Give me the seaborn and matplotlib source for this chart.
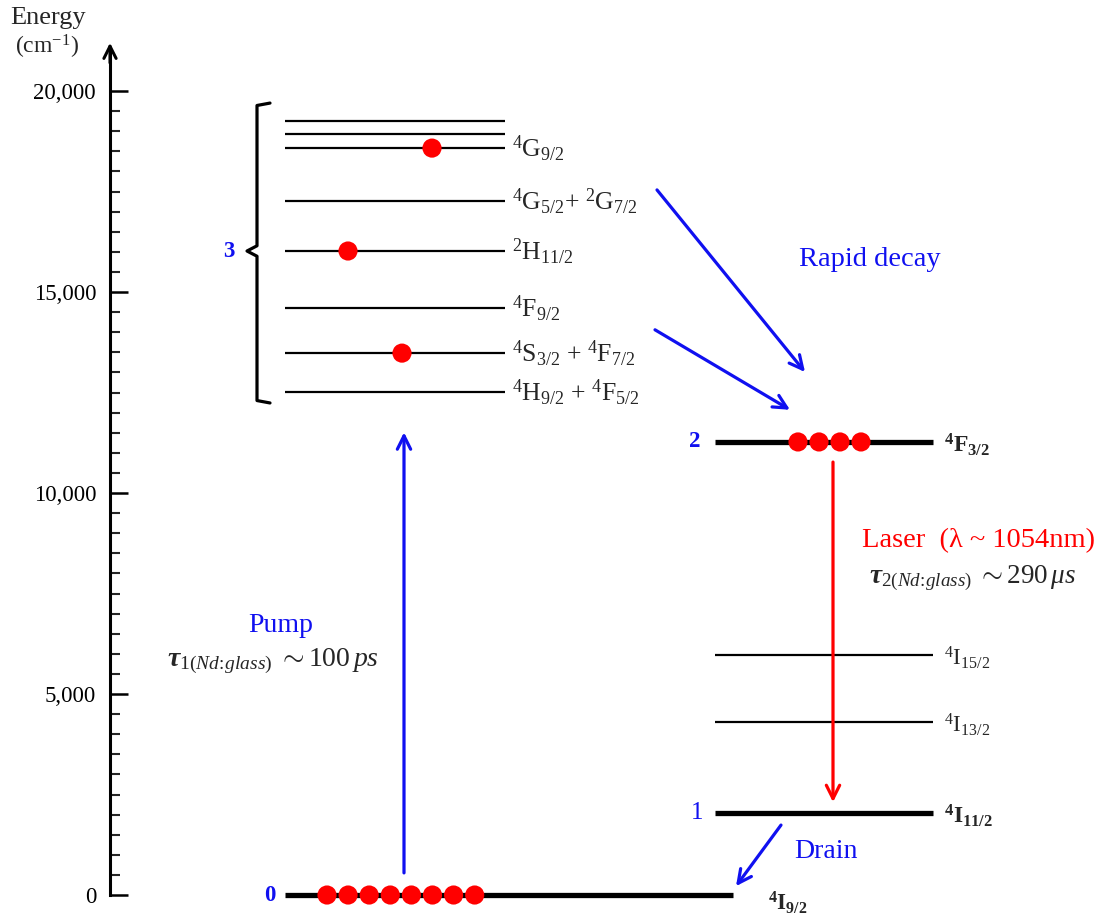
import numpy as np
import pandas as pd
import matplotlib
matplotlib.use("Agg")
import matplotlib.pyplot as plt
import seaborn as sns
from matplotlib.ticker import FixedLocator

# ---- Nd:glass energy levels (cm^-1) ----
band_energy = [19250, 18930, 18580, 17260, 16020, 14600, 13480, 12510]
band_terms = ["", "", r"$^{4}\mathrm{G}_{9/2}$",
              r"$^{4}\mathrm{G}_{5/2}\mathrm{+}\ ^{2}\mathrm{G}_{7/2}$",
              r"$^{2}\mathrm{H}_{11/2}$",
              r"$^{4}\mathrm{F}_{9/2}$",
              r"$^{4}\mathrm{S}_{3/2}\ \mathrm{+}\ ^{4}\mathrm{F}_{7/2}$",
              r"$^{4}\mathrm{H}_{9/2}\ \mathrm{+}\ ^{4}\mathrm{F}_{5/2}$"]
band_population = [0, 0, 1, 0, 1, 0, 1, 0]

lower_energy = [11270, 5970, 4300, 2040]
lower_terms = [r"$\mathbf{^{4}F_{3/2}}$", r"$^{4}\mathrm{I}_{15/2}$",
               r"$^{4}\mathrm{I}_{13/2}$", r"$\mathbf{^{4}I_{11/2}}$"]
lower_main = [True, False, False, True]
lower_population = [4, 0, 0, 0]

ground_energy = 0
ground_term = r"$\mathbf{^{4}I_{9/2}}$"
ground_population = 8

tick_values = [0, 5000, 10000, 15000, 20000]
tick_labels = ["0", "5,000", "10,000", "15,000", "20,000"]

# ---- style ----
sns.set_theme(style="white")
plt.rcParams["font.family"] = ["Liberation Serif", "DejaVu Serif"]
plt.rcParams["mathtext.fontset"] = "custom"
plt.rcParams["mathtext.rm"] = "Liberation Serif"
plt.rcParams["mathtext.it"] = "Liberation Serif:italic"
plt.rcParams["mathtext.bf"] = "Liberation Serif:bold"
plt.rcParams["mathtext.bfit"] = "Liberation Serif:italic:bold"

BLUE = "#1010F0"
RED = "#FF0000"

fig = plt.figure(figsize=(10.97, 9.16), dpi=100)
ax = fig.add_axes([0, 0, 1, 1])
ax.set_xlim(0, 1097)
ax.set_ylim(-522, 22264)

# ---- energy axis ----
for s in ["top", "right", "bottom"]:
    ax.spines[s].set_visible(False)
ax.spines["left"].set_position(("data", 110))
ax.spines["left"].set_bounds(0, 21000)
ax.spines["left"].set_linewidth(2.2)
ax.spines["left"].set_color("black")
ax.set_xticks([])
ax.yaxis.set_major_locator(FixedLocator(tick_values))
ax.set_yticklabels(tick_labels)
ax.yaxis.set_minor_locator(FixedLocator(np.arange(500, 20000, 500)))
ax.yaxis.set_ticks_position("left")
ax.tick_params(axis="y", which="major", direction="in", length=13, width=1.8,
               pad=10, labelsize=16.5, colors="black")
ax.tick_params(axis="y", which="minor", direction="in", length=7, width=1.5,
               left=True)
ax.annotate("", xy=(110, 21200), xytext=(110, 20700),
            arrowprops=dict(arrowstyle="->", lw=2.2, color="black",
                            mutation_scale=22, shrinkA=0, shrinkB=0))
fig.text(10 / 1097, 1 - 18 / 916, "Energy", fontsize=19, va="center", ha="left")
fig.text(15 / 1097, 1 - 47 / 916, r"(cm$^{\mathrm{-1}}$)", fontsize=17,
         va="center", ha="left")

# ---- pump band (level 3) ----
band_x0, band_x1 = 285, 505
ax.hlines(band_energy, band_x0, band_x1, color="black", lw=1.6)
for e, t in zip(band_energy, band_terms):
    if t:
        ax.text(512, e + 60, t, fontsize=18.5, va="center_baseline", ha="left")

# bracket grouping the pump band
b_top, b_bot = 19700, 12240
b_mid = band_energy[4]
ax.plot([270, 257, 257, 247, 257, 257, 270],
        [b_top, b_top - 60, b_mid + 130, b_mid, b_mid - 130, b_bot + 60, b_bot],
        color="black", lw=2.3, solid_joinstyle="round")
ax.text(229, b_mid, "3", color=BLUE, fontsize=16.5, fontweight="bold",
        ha="center", va="center")

# ---- lower levels ----
low_x0, low_x1 = 715, 933
for e, t, main in zip(lower_energy, lower_terms, lower_main):
    ax.hlines(e, low_x0, low_x1, color="black", lw=3.8 if main else 1.6)
    ax.text(944, e, t, fontsize=17 if main else 16.5, va="center_baseline",
            ha="left")
ax.text(695, lower_energy[0], "2", color=BLUE, fontsize=16.5, fontweight="bold",
        ha="center", va="center")
ax.text(697, lower_energy[3], "1", color=BLUE, fontsize=18,
        ha="center", va="center")

# ---- ground level ----
ax.hlines(ground_energy, 285, 733, color="black", lw=3.8)
ax.text(768, ground_energy - 120, ground_term, fontsize=16.5,
        va="center_baseline", ha="left")
ax.text(270, ground_energy, "0", color=BLUE, fontsize=16.5, fontweight="bold",
        ha="center", va="center")

# ---- populations (red dots) ----
band_dot_x = {2: 432, 4: 348, 6: 402}
rows = []
for i, n in enumerate(band_population):
    if n:
        rows.append((band_dot_x[i], band_energy[i]))
for k in range(lower_population[0]):
    rows.append((798 + 21 * k, lower_energy[0]))
for k in range(ground_population):
    rows.append((327 + 21.1 * k, ground_energy))
dots = pd.DataFrame(rows, columns=["x", "energy"])
sns.scatterplot(data=dots, x="x", y="energy", color=RED, s=190,
                edgecolor="none", ax=ax, zorder=5, legend=False)
ax.set_xlabel("")
ax.set_ylabel("")

# ---- transitions ----
def arrow(x0, e0, x1, e1, color):
    ax.annotate("", xy=(x1, e1), xytext=(x0, e0),
                arrowprops=dict(arrowstyle="->", lw=2.3, color=color,
                                mutation_scale=24, shrinkA=0, shrinkB=0))

# pump
arrow(404, ground_energy + 550, 404, band_energy[-1] - 1000, BLUE)
# rapid non-radiative decay into 4F3/2
arrow(657, band_energy[3] + 280, 805, lower_energy[0] + 1740, BLUE)
arrow(655, band_energy[6] + 580, 790, lower_energy[0] + 800, BLUE)
# laser transition
arrow(833, lower_energy[0] - 500, 833, lower_energy[3] + 270, RED)
# drain to ground
arrow(781, lower_energy[3] - 300, 736, ground_energy + 220, BLUE)

# ---- annotations ----
ax.text(870, 15821, "Rapid decay", color=BLUE, fontsize=20.5, ha="center",
        va="center")
ax.text(281, 6716, "Pump", color=BLUE, fontsize=20, ha="center", va="center")
ax.text(273, 5821,
        r"$\mathbfit{\tau}_{\mathrm{1(}\mathit{Nd\!:\!glass}\mathrm{)}}\ \mathrm{\sim 100}\,\mathit{ps}$",
        fontsize=20, ha="center", va="center")
ax.text(978, 8806, "Laser  (\u03bb ~ 1054nm)", color=RED, fontsize=20.5,
        ha="center", va="center")
ax.text(973, 7886,
        r"$\mathbfit{\tau}_{\mathrm{2(}\mathit{Nd\!:\!glass}\mathrm{)}}\ \mathrm{\sim 290}\,\mathit{\mu s}$",
        fontsize=19.5, ha="center", va="center")
ax.text(826, 1094, "Drain", color=BLUE, fontsize=20, ha="center", va="center")

fig.savefig("out.png", dpi=100)
